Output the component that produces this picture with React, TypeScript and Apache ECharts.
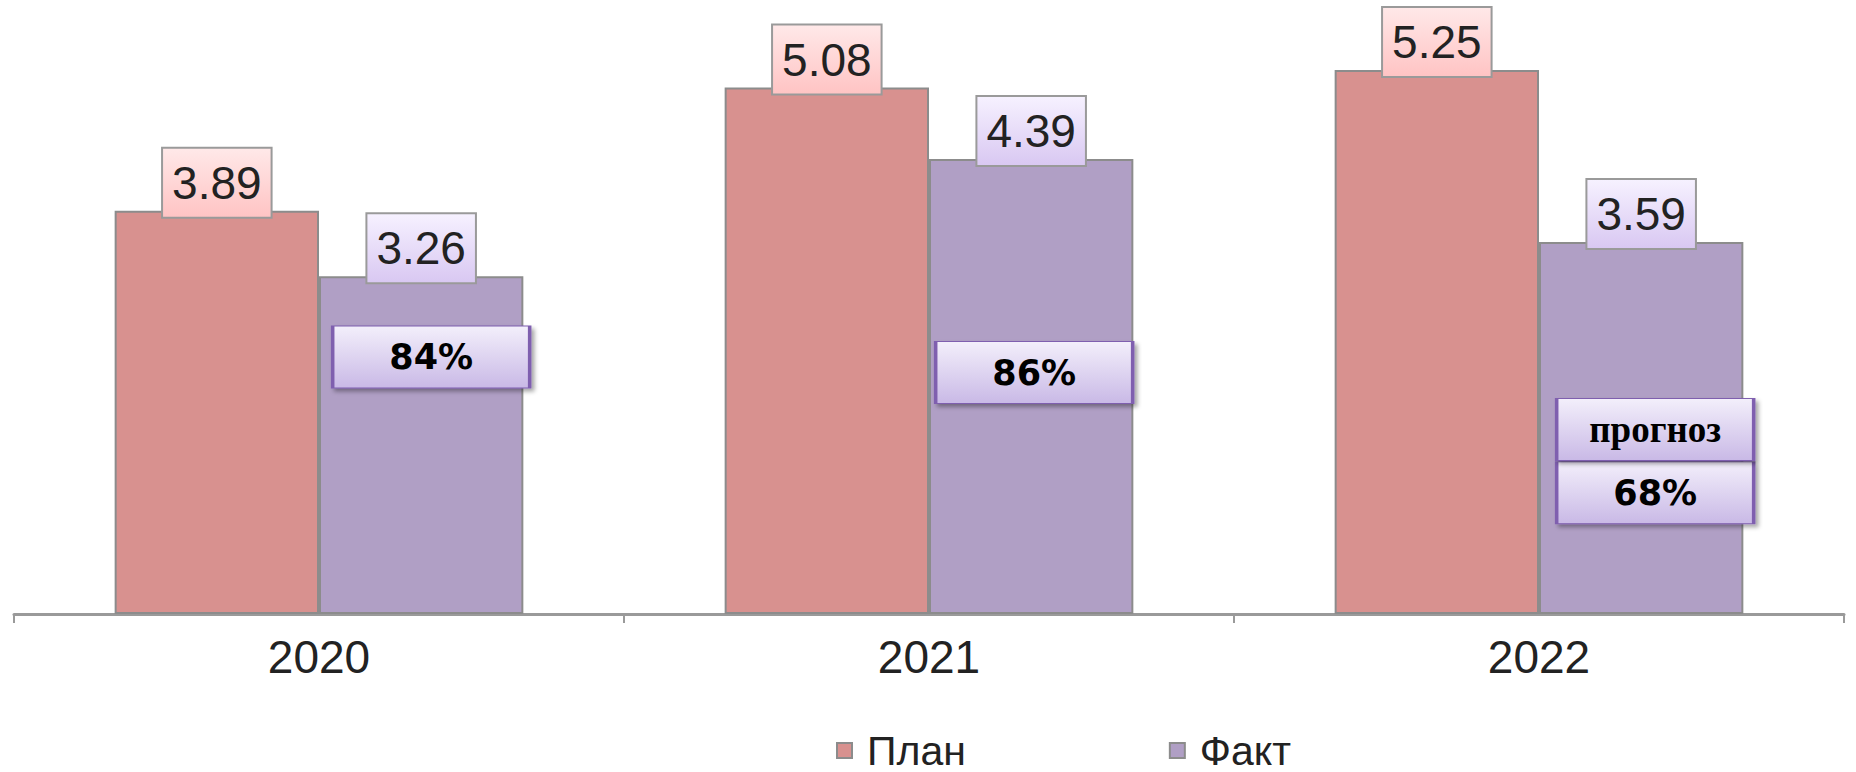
import React, { useEffect, useRef } from "react";
import * as echarts from "echarts";

const categories = ["2020", "2021", "2022"];
const planValues = [3.89, 5.08, 5.25];
const factValues = [3.26, 4.39, 3.59];
const seriesNames = ["План", "Факт"];
// annotation boxes on the Факт bars
const pctLabels = ["84%", "86%", "68%"];
const pctAnchors = [2.48, 2.33, 1.17];
const forecastLabel = "прогноз";
const forecastAnchor = 1.78;
const forecastIndex = 2;

const grad = (top: string, bottom: string) =>
  new echarts.graphic.LinearGradient(0, 0, 0, 1, [
    { offset: 0, color: top },
    { offset: 1, color: bottom },
  ]);

export default function App() {
  const ref = useRef<HTMLDivElement>(null);
  useEffect(() => {
    if (!ref.current) return;
    const chart = echarts.init(ref.current, undefined, { renderer: "svg" });
    const valueLabel = (top: string, bottom: string) => ({
      show: true,
      position: "top",
      distance: -6,
      fontSize: 46,
      fontFamily: "Liberation Sans, Arial, sans-serif",
      color: "#222",
      lineHeight: 52,
      padding: [8, 9, 8, 9],
      backgroundColor: grad(top, bottom),
      borderColor: "#9a9a9a",
      borderWidth: 2,
      formatter: (p: any) => p.value.toFixed(2),
    });
    const boxStyle = {
      color: grad("#F3EFFB", "#C9B9E6"),
      borderColor: "#7F5FAF",
      borderWidth: 2,
      shadowBlur: 4,
      shadowOffsetX: 3,
      shadowOffsetY: 3,
      shadowColor: "rgba(0,0,0,0.35)",
    };
    const offsets = [10, 3, 14];
    const markData: any[] = pctLabels.map((t, i) => ({
      name: t,
      coord: [i, pctAnchors[i]],
      symbolOffset: [offsets[i], 0],
      label: { formatter: t },
    }));
    markData.push({
      name: forecastLabel,
      coord: [forecastIndex, forecastAnchor],
      symbolOffset: [offsets[forecastIndex], 0],
      label: {
        formatter: forecastLabel,
        fontFamily: "Liberation Serif, serif",
        fontSize: 37,
      },
    });
    chart.setOption({
      animation: false,
      grid: { left: 14, right: 12, top: 44, bottom: 158 },
      legend: {
        left: 836,
        top: 730,
        itemWidth: 15,
        itemHeight: 15,
        itemGap: 203,
        icon: "rect",
        padding: 0,
        textStyle: {
          fontSize: 41,
          lineHeight: 41,
          padding: [0, 0, 0, 10],
          fontFamily: "Liberation Sans, Arial, sans-serif",
          color: "#222",
        },
        data: seriesNames,
      },
      xAxis: {
        type: "category",
        data: categories,
        axisLine: { lineStyle: { color: "#9a9a9a", width: 3 } },
        axisTick: { show: true, length: 9, lineStyle: { color: "#9a9a9a", width: 2 } },
        axisLabel: {
          fontSize: 46,
          margin: 20,
          color: "#222",
          fontFamily: "Liberation Sans, Arial, sans-serif",
        },
      },
      yAxis: { type: "value", min: 0, max: 5.5, show: false, splitLine: { show: false } },
      series: [
        {
          name: seriesNames[0],
          type: "bar",
          data: planValues,
          barGap: "0%",
          barCategoryGap: "33%",
          itemStyle: {
            color: "#D8918F",
            borderColor: "#8c8c8c",
            borderWidth: 2,
          },
          label: valueLabel("#FFE8E8", "#FFC4C4"),
        },
        {
          name: seriesNames[1],
          type: "bar",
          data: factValues,
          barGap: "0%",
          barCategoryGap: "33%",
          itemStyle: {
            color: "#B09FC5",
            borderColor: "#8c8c8c",
            borderWidth: 2,
          },
          label: valueLabel("#F6F1FF", "#D9C8F2"),
          markPoint: {
            symbol: "rect",
            symbolSize: [197, 62],
            itemStyle: boxStyle,
            label: {
              show: true,
              position: "inside",
              fontSize: 35,
              fontWeight: "bold",
              fontFamily: "DejaVu Sans, Verdana, sans-serif",
              color: "#000",
            },
            data: markData,
          },
        },
      ],
    });
    return () => chart.dispose();
  }, []);
  return (
    <div
      ref={ref}
      style={{ position: "fixed", left: 0, top: 0, width: 1856, height: 772, background: "#fff" }}
    />
  );
}
